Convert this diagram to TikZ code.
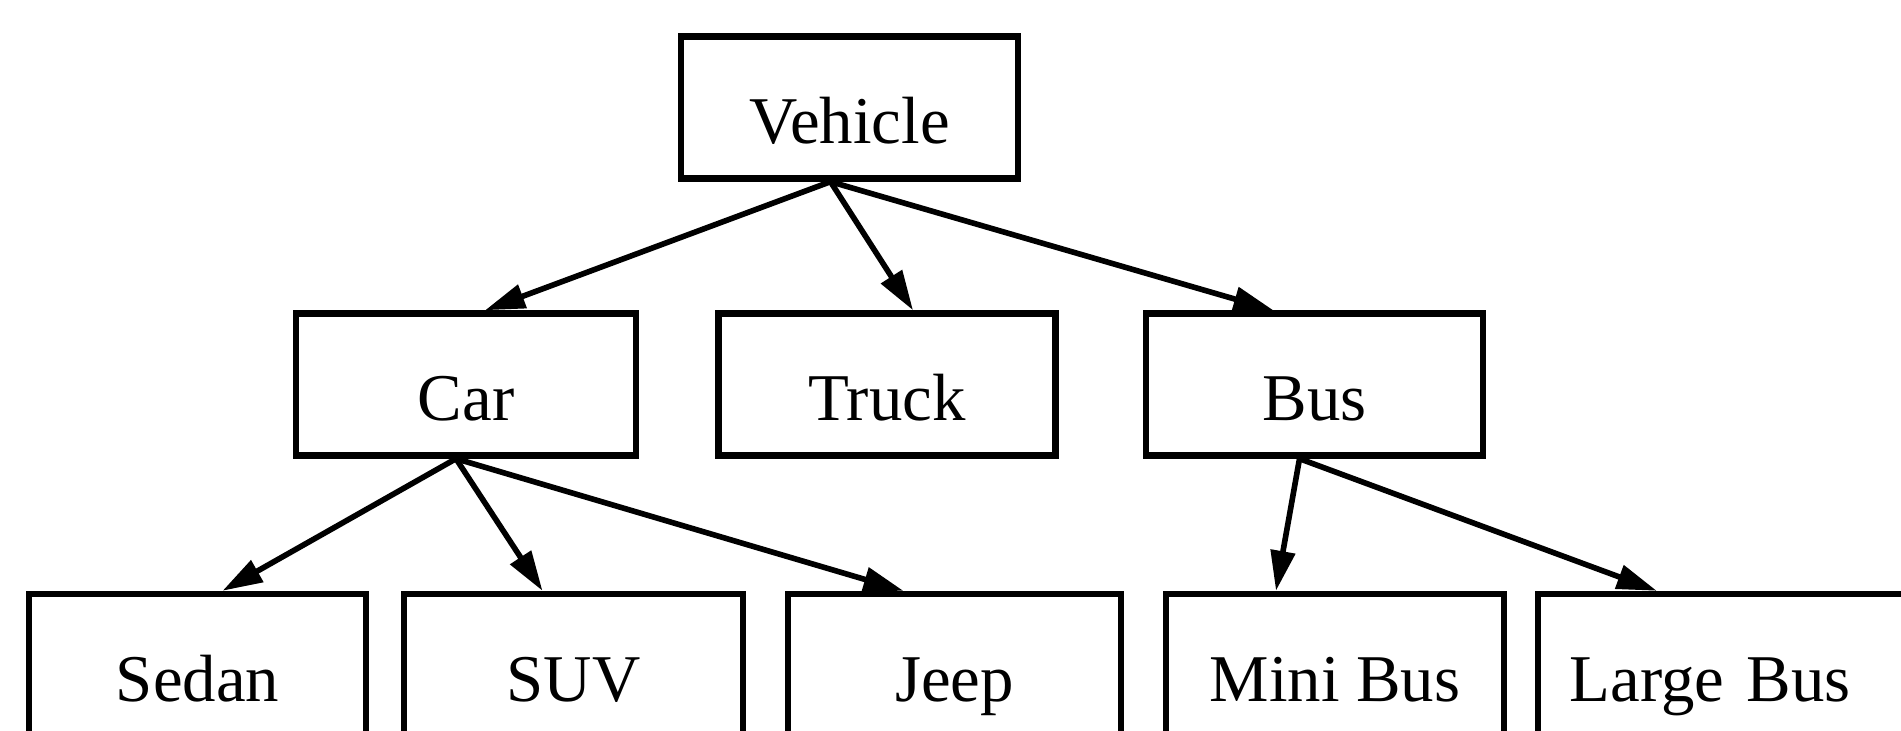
\documentclass[tikz,border=0pt]{standalone}
\usepackage{fontspec}
\setmainfont{Liberation Serif}
\usetikzlibrary{arrows.meta}

\begin{document}
\begin{tikzpicture}
    [
        x = 0.01cm, y = -0.01cm,
        class/.style = {
            rectangle, draw, line width=1.8pt,
            minimum width=3.37cm, minimum height=1.42cm,
            inner sep=0pt, text height=0.72cm, text depth=0cm,
            font=\fontsize{19}{23}\selectfont
            },
        link/.style = {
            line width=1.6pt, -{Triangle[length=0.4cm, width=0.24cm]}
            },
    ]
    \clip (0,0) rectangle (1901,731);
    % top
    \node[class] (vehicle) at (849.5,107.5) {Vehicle};
    % middle row
    \node[class, minimum width=3.4cm] (car) at (466,384.5) {Car};
    \node[class] (truck) at (887,384.5) {Truck};
    \node[class] (bus) at (1314.5,384.5) {Bus};
    % bottom row
    \node[class] (sedan) at (197.5,665) {Sedan};
    \node[class, minimum width=3.39cm] (suv) at (573.5,665) {SUV};
    \node[class, minimum width=3.33cm] (jeep) at (954.5,665) {Jeep};
    \node[class, minimum width=3.38cm] (minibus) at (1335,665) {Mini Bus};
    \node[class, minimum width=4.2cm, text width=3.56cm, align=left,
          inner xsep=0.32cm] (largebus) at (1748,665) {Large Bus};

    \draw[link] ([xshift=-0.19cm]vehicle.south) -- ([xshift=0.19cm]car.north);
    \draw[link] ([xshift=-0.19cm]vehicle.south) -- ([xshift=0.26cm]truck.north);
    \draw[link] ([xshift=-0.19cm]vehicle.south) -- ([xshift=-0.41cm]bus.north);
    \draw[link] ([xshift=-0.1cm]car.south) -- ([xshift=0.25cm]sedan.north);
    \draw[link] ([xshift=-0.1cm]car.south) -- ([xshift=-0.31cm]suv.north);
    \draw[link] ([xshift=-0.1cm]car.south) -- ([xshift=-0.51cm]jeep.north);
    \draw[link] ([xshift=-0.15cm]bus.south) -- ([xshift=-0.59cm]minibus.north);
    \draw[link] ([xshift=-0.15cm]bus.south) -- ([xshift=1.22cm]largebus.north west);
\end{tikzpicture}
\end{document}
